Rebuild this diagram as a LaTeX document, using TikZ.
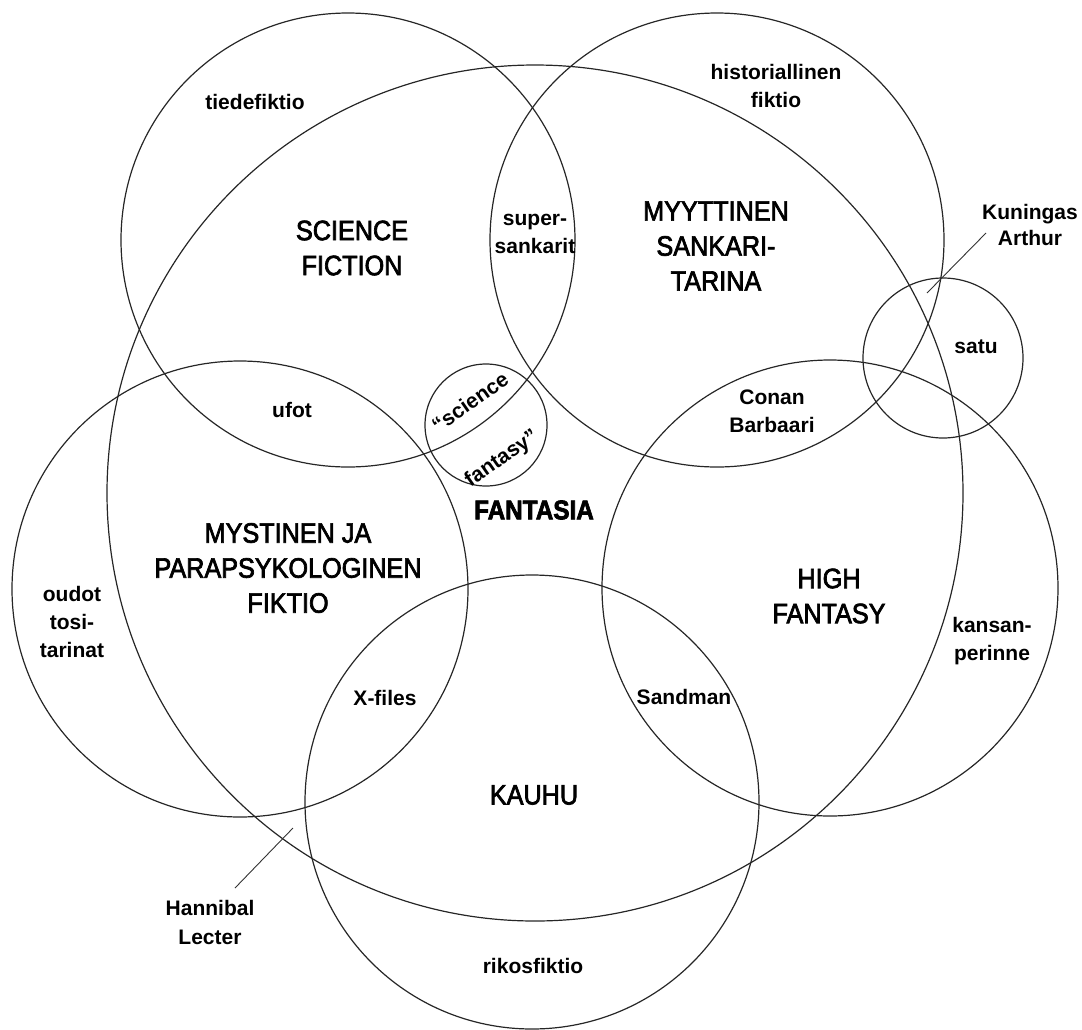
\documentclass[tikz,border=0pt]{standalone}
\usepackage{fontspec}
\setmainfont{Liberation Sans}
\newfontfamily\headfont{Liberation Sans}[FakeStretch=0.9, FakeBold=2.5]
\begin{document}
\begin{tikzpicture}[x=1pt,y=-1pt,
  ring/.style={draw=black!85, line width=1.2pt},
  lbl/.style={font=\fontsize{21}{28}\selectfont\bfseries, align=center, inner sep=0pt},
  head/.style={font=\headfont\fontsize{28}{35}\selectfont, align=center, inner sep=0pt},
  leader/.style={draw=black!80, line width=0.9pt}]
\useasboundingbox (0,0) rectangle (1082,1029);
% circles (set areas)
\coordinate (cfant) at (535,493);
\coordinate (csf) at (348,240);
\coordinate (cmyy) at (717,240);
\coordinate (cmyst) at (240,589);
\coordinate (ckauhu) at (532,802);
\coordinate (chigh) at (830,588);
\coordinate (csatu) at (943,358);
\coordinate (cscifan) at (486,425);
\draw[ring] (cfant) circle[radius=428pt];
\draw[ring] (csf) circle[radius=227pt];
\draw[ring] (cmyy) circle[radius=227pt];
\draw[ring] (cmyst) circle[radius=228pt];
\draw[ring] (ckauhu) circle[radius=227pt];
\draw[ring] (chigh) circle[radius=228pt];
\draw[ring] (csatu) circle[radius=80pt];
\draw[ring] (cscifan) circle[radius=61pt];
% headings
\node[head] (tsf) at (352,248) {SCIENCE\\FICTION};
\node[head] (tmyy) at (716,246) {MYYTTINEN\\SANKARI-\\TARINA};
\node[head] (tmyst) at (288,568) {MYSTINEN JA\\PARAPSYKOLOGINEN\\FIKTIO};
\node[head] (thigh) at (829,596) {HIGH\\FANTASY};
\node[head] (tkauhu) at (534,795) {KAUHU};
\node[head, font=\headfont\bfseries\fontsize{27}{32}\selectfont] (tfant) at (534,510) {FANTASIA};
% labels
\node[lbl] (ttiede) at (255,102) {tiedefiktio};
\node[lbl] (thist) at (776,86) {historiallinen\\fiktio};
\node[lbl] (tsuper) at (535,234) {super-\\sankarit};
\node[lbl] (tufot) at (292,410) {ufot};
\node[lbl, rotate=35] (tsci) at (470,402) {“science};
\node[lbl, rotate=35] (tfan) at (502,459) {fantasy”};
\node[lbl] (tconan) at (772,411) {Conan\\Barbaari};
\node[lbl] (tsatu) at (976,347) {satu};
\node[lbl, font=\fontsize{21}{26}\selectfont\bfseries] (tarthur) at (1030,225) {Kuningas\\Arthur};
\node[lbl] (toudot) at (72,622) {oudot\\tosi-\\tarinat};
\node[lbl] (txfiles) at (385,698) {X-files};
\node[lbl] (tsand) at (684,697) {Sandman};
\node[lbl] (tkansan) at (992,641) {kansan-\\perinne};
\node[lbl, font=\fontsize{21}{29}\selectfont\bfseries] (thann) at (210,922) {Hannibal\\Lecter};
\node[lbl] (triko) at (533,966) {rikosfiktio};
% leaders
\coordinate (arthurA) at (986,233);
\coordinate (arthurB) at (927,293);
\draw[leader] (arthurA) -- (arthurB);
\coordinate (hannA) at (235,888);
\coordinate (hannB) at (293,828);
\draw[leader] (hannA) -- (hannB);
\end{tikzpicture}
\end{document}
